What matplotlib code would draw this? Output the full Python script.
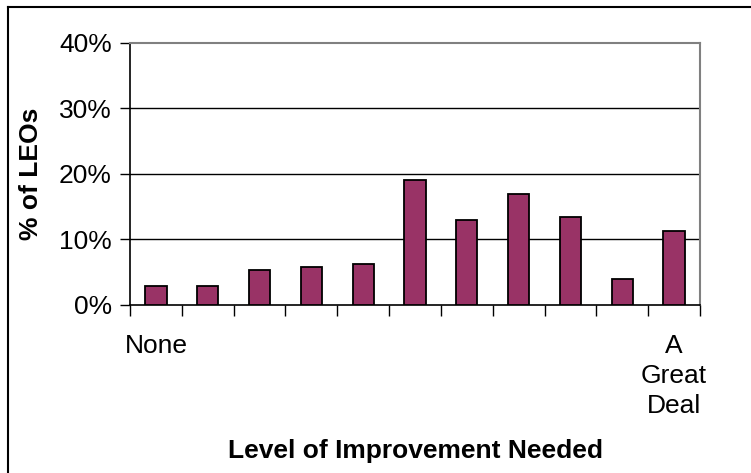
import matplotlib
matplotlib.use("Agg")
import matplotlib.pyplot as plt
from matplotlib.lines import Line2D
import numpy as np

plt.rcParams['font.family'] = ['Liberation Sans', 'DejaVu Sans']

categories = ["None", "", "", "", "", "", "", "", "", "", "A\nGreat\nDeal"]
values = [2.9, 2.8, 5.3, 5.8, 6.2, 19.0, 13.0, 16.9, 13.4, 3.9, 11.3]
yticks = [0, 10, 20, 30, 40]
ytick_labels = ["0%", "10%", "20%", "30%", "40%"]

W, H = 751, 473
FS = 19
fig = plt.figure(figsize=(W / 100, H / 100), dpi=100)
ax = fig.add_axes([130 / W, (H - 304.7) / H, 570 / W, (304.7 - 42.7) / H])

x = np.arange(len(values))
ax.bar(x, values, width=0.41, color="#993366", edgecolor="black", linewidth=1.3, zorder=3)

ax.set_xlim(-0.5, len(values) - 0.5)
ax.set_ylim(0, 40)

ax.set_yticks(yticks)
ax.set_yticklabels(ytick_labels, fontsize=FS)
for yv in yticks[1:-1]:
    ax.axhline(yv, color="black", linewidth=1.0, zorder=1)

# x ticks: tick marks at category boundaries, labels at centers
ax.set_xticks(np.arange(len(values) + 1) - 0.5)
ax.set_xticklabels([])
ax.set_xticks(x, minor=True)
ax.set_xticklabels(categories, minor=True, fontsize=FS, linespacing=1.33)
ax.tick_params(axis="x", which="major", direction="out", length=8, width=1, color="black")
ax.tick_params(axis="x", which="minor", length=0, pad=21)
ax.tick_params(axis="y", direction="out", length=7, width=1, pad=6)

for s in ["left", "bottom"]:
    ax.spines[s].set_color("black")
    ax.spines[s].set_linewidth(1.2)
for s in ["top", "right"]:
    ax.spines[s].set_color("#808080")
    ax.spines[s].set_linewidth(1.5)

fig.text(31 / W, 1 - 174 / H, "% of LEOs", rotation=90, ha="center", va="center",
         fontsize=FS, fontweight="bold")
fig.text(415 / W, 1 - 451 / H, "Level of Improvement Needed", ha="center", va="center",
         fontsize=FS, fontweight="bold")

# outer frame (left and top visible)
fig.add_artist(Line2D([8 / W, 8 / W], [0, 1 - 7 / H], color="black", linewidth=1.5,
                      transform=fig.transFigure))
fig.add_artist(Line2D([8 / W, 1], [1 - 7 / H, 1 - 7 / H], color="black", linewidth=1.5,
                      transform=fig.transFigure))

fig.savefig("out.png", dpi=100)
